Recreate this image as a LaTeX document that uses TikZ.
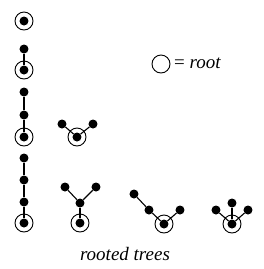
\documentclass[tikz,border=0pt]{standalone}
\usepackage{fontspec}
\setmainfont{Liberation Serif}
\usetikzlibrary{positioning}

\begin{document}
\begin{tikzpicture}[x=1pt, y=-1pt,
    dot/.style={circle, fill=black, inner sep=0pt, minimum size=9pt},
    ring/.style={circle, draw, inner sep=0pt, minimum size=18pt, line width=0.9pt},
    edge/.style={line width=1.1pt}]

    % fester Rahmen wie im Original
    \useasboundingbox (0,0) rectangle (264,269);

    % 1. Baum mit einem Knoten
    \node[dot] (t1r) at (24,21) {};
    \node[ring] (t1c) at (t1r) {};

    % 2. zwei Knoten
    \node[dot] (t2r) at (24,70) {};
    \node[ring] (t2c) at (t2r) {};
    \node[dot] (t2a) at (24,49) {};
    \draw[edge] (t2r) -- (t2a);

    % 3. drei Knoten: Pfad und Kirsche
    \node[dot] (t3r) at (24,137) {};
    \node[ring] (t3c) at (t3r) {};
    \node[dot] (t3a) at (24,115) {};
    \node[dot] (t3b) at (24,92) {};
    \draw[edge] (t3r) -- (t3a) -- (t3b);

    \node[dot] (t4r) at (77,137) {};
    \node[ring] (t4c) at (t4r) {};
    \node[dot] (t4a) at (62,124) {};
    \node[dot] (t4b) at (93,124) {};
    \draw[edge] (t4a) -- (t4r) -- (t4b);

    % 4. vier Knoten
    \node[dot] (t5r) at (24,223) {};
    \node[ring] (t5c) at (t5r) {};
    \node[dot] (t5a) at (24,202) {};
    \node[dot] (t5b) at (24,180) {};
    \node[dot] (t5d) at (24,158) {};
    \draw[edge] (t5r) -- (t5a) -- (t5b) -- (t5d);

    \node[dot] (t6r) at (80,223) {};
    \node[ring] (t6c) at (t6r) {};
    \node[dot] (t6m) at (80,203) {};
    \node[dot] (t6a) at (65,187) {};
    \node[dot] (t6b) at (96,187) {};
    \draw[edge] (t6r) -- (t6m);
    \draw[edge] (t6a) -- (t6m) -- (t6b);

    \node[dot] (t7r) at (164,224) {};
    \node[ring] (t7c) at (t7r) {};
    \node[dot] (t7a) at (149,210) {};
    \node[dot] (t7b) at (134,194) {};
    \node[dot] (t7d) at (180,210) {};
    \draw[edge] (t7b) -- (t7a) -- (t7r) -- (t7d);

    \node[dot] (t8r) at (232,224) {};
    \node[ring] (t8c) at (t8r) {};
    \node[dot] (t8a) at (216,210) {};
    \node[dot] (t8b) at (232,203) {};
    \node[dot] (t8d) at (248,210) {};
    \draw[edge] (t8a) -- (t8r) -- (t8d);
    \draw[edge] (t8r) -- (t8b);

    % 5. Legende und Beschriftung
    \node[ring] (key) at (161,64) {};
    \node[anchor=base west, inner sep=0pt, font=\fontsize{19}{22}\selectfont]
        (keytext) at (174,68) {= \textit{root}};
    \node[anchor=base, inner sep=0pt, font=\fontsize{19}{22}\selectfont\itshape]
        (caption) at (125,260) {rooted trees};

\end{tikzpicture}
\end{document}
